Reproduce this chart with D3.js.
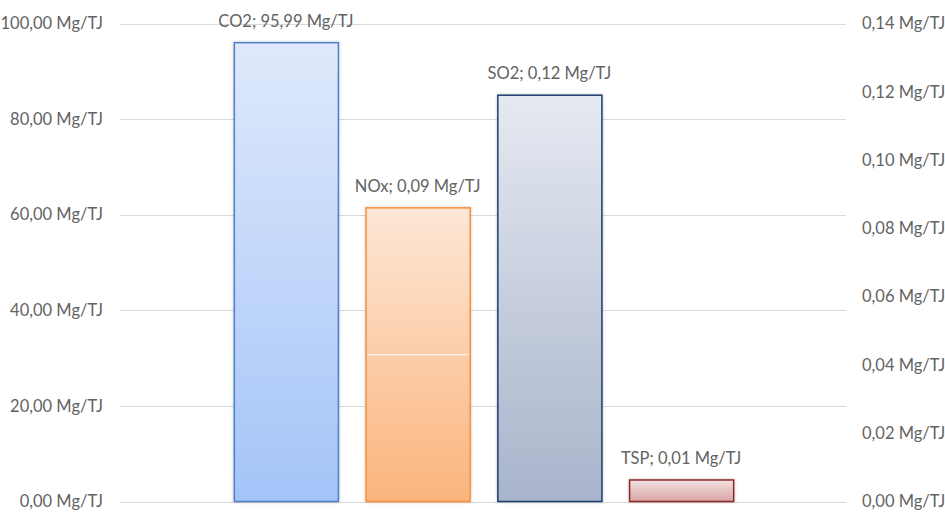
<!DOCTYPE html>
<html>
<head>
<meta charset="utf-8">
<script src="https://cdn.jsdelivr.net/npm/d3@7"></script>
<style>
  html, body { margin: 0; padding: 0; background: #fff; }
  svg text { font-family: Lato, "Open Sans", sans-serif; fill: #636363; }
</style>
</head>
<body>
<svg id="chart" width="945" height="513"></svg>
<script>
// Emission factors per pollutant
const categories = ["CO2", "NOx", "SO2", "TSP"];
const values = [95.99, 0.086, 0.119, 0.0063];
// CO2 is read on the left axis, the others on the right one
const axisSide = ["left", "right", "right", "right"];
const leftTicks = [0, 20, 40, 60, 80, 100];
const rightTicks = [0, 0.02, 0.04, 0.06, 0.08, 0.10, 0.12, 0.14];
const unit = "Mg/TJ";

const colors = [
  { top: "#dfe9fb", bottom: "#a4c4f8", stroke: "#4f81c8" },
  { top: "#fde7d6", bottom: "#fbb47c", stroke: "#f7913f" },
  { top: "#e5e9f1", bottom: "#a8b4cb", stroke: "#203f70" },
  { top: "#f3e0e0", bottom: "#d9a5a5", stroke: "#8c2b2b" }
];

const fontSize = "16.5px";
const svg = d3.select("#chart");
const fmt = v => d3.format(".2f")(v).replace(".", ",") + " " + unit;

const yLeft = d3.scaleLinear().domain([0, 100]).range([501.5, 23.5]);
const yRight = d3.scaleLinear().domain([0, 0.14]).range([501.5, 23.5]);
const x = d3.scaleBand().domain(categories).range([220, 747])
  .paddingInner(0.21).paddingOuter(0.105);
const yFor = i => axisSide[i] === "left" ? yLeft : yRight;

const defs = svg.append("defs");
colors.forEach((c, i) => {
  const g = defs.append("linearGradient").attr("id", "grad" + i)
    .attr("x1", 0).attr("y1", 0).attr("x2", 0).attr("y2", 1);
  g.append("stop").attr("offset", "0%").attr("stop-color", c.top);
  g.append("stop").attr("offset", "100%").attr("stop-color", c.bottom);
});
const shadow = defs.append("filter").attr("id", "shadow")
  .attr("x", "-10%").attr("y", "-10%").attr("width", "120%").attr("height", "120%");
shadow.append("feDropShadow").attr("dx", 0).attr("dy", 0)
  .attr("stdDeviation", 1.5).attr("flood-color", "#000").attr("flood-opacity", 0.25);

// Gridlines follow the left axis
const gridX0 = 120, gridX1 = 846;
svg.append("g").selectAll("line").data(leftTicks).join("line")
  .attr("x1", gridX0).attr("x2", gridX1)
  .attr("y1", d => Math.round(yLeft(d)) + 0.5).attr("y2", d => Math.round(yLeft(d)) + 0.5)
  .attr("stroke", "#d9d9d9").attr("stroke-width", 1);

// Left axis
const leftAxis = d3.axisLeft(yLeft).tickValues(leftTicks).tickSize(0).tickPadding(0)
  .tickFormat(fmt);
svg.append("g").attr("transform", "translate(103,0)").call(leftAxis)
  .call(g => g.select(".domain").remove())
  .selectAll("text").style("font-size", fontSize);

// Right axis
const rightAxis = d3.axisRight(yRight).tickValues(rightTicks).tickSize(0).tickPadding(0)
  .tickFormat(fmt);
svg.append("g").attr("transform", "translate(862,0)").call(rightAxis)
  .call(g => g.select(".domain").remove())
  .selectAll("text").style("font-size", fontSize);

// Bars
const data = categories.map((c, i) => ({ c, v: values[i], i }));
svg.append("g").selectAll("rect").data(data).join("rect")
  .attr("x", d => x(d.c) + 0.5)
  .attr("y", d => yFor(d.i)(d.v))
  .attr("width", x.bandwidth())
  .attr("height", d => yFor(d.i)(0) - yFor(d.i)(d.v))
  .attr("fill", d => `url(#grad${d.i})`)
  .attr("stroke", d => colors[d.i].stroke)
  .attr("stroke-width", 1.5)
  .attr("filter", "url(#shadow)");

// Thin seam across the middle of the NOx bar
const nox = data[1];
svg.append("line")
  .attr("x1", x(nox.c) + 1.5).attr("x2", x(nox.c) + x.bandwidth() - 0.5)
  .attr("y1", yRight(nox.v / 2)).attr("y2", yRight(nox.v / 2))
  .attr("stroke", "#fff").attr("stroke-width", 1).attr("opacity", 0.9);

// Value labels
svg.append("g").selectAll("text").data(data).join("text")
  .attr("x", d => x(d.c) + x.bandwidth() / 2)
  .attr("y", d => yFor(d.i)(d.v) - 22)
  .attr("text-anchor", "middle").attr("dominant-baseline", "central")
  .style("font-size", fontSize)
  .text(d => `${d.c}; ${fmt(d.v)}`);
</script>
</body>
</html>
